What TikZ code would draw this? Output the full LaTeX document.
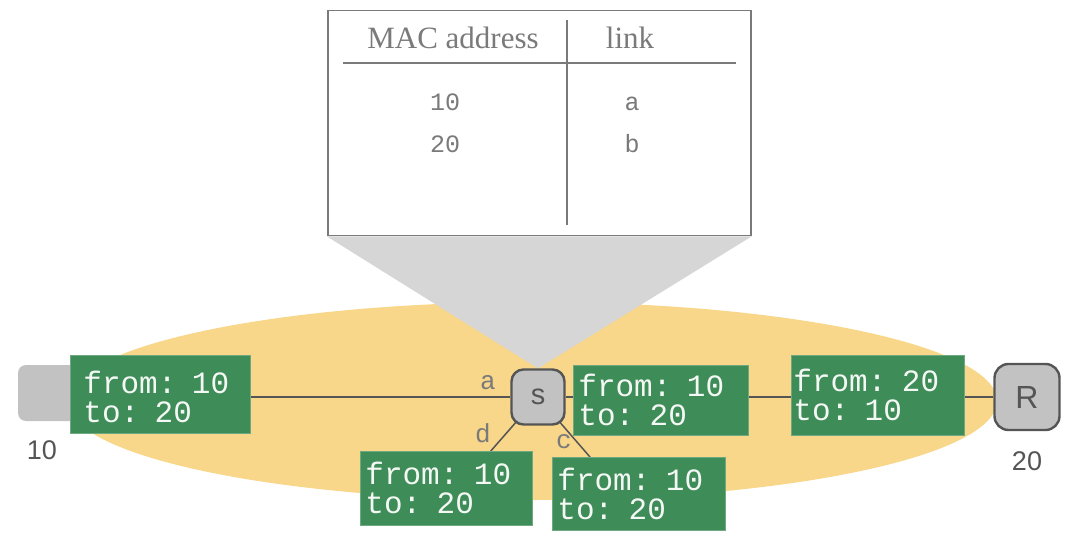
\documentclass[tikz,border=0pt]{standalone}
\usepackage{fontspec}
\setmainfont{Liberation Serif}
\setsansfont{Liberation Sans}
\setmonofont{Liberation Mono}
\usetikzlibrary{backgrounds}
\definecolor{lan}{HTML}{F8D68A}
\definecolor{cone}{HTML}{D6D6D6}
\definecolor{devfill}{HTML}{C2C2C2}
\definecolor{frame}{HTML}{3E8C57}
\definecolor{ink}{HTML}{555555}
\definecolor{tabink}{HTML}{7A7A7A}
\begin{document}
\begin{tikzpicture}[x=1pt,y=-1pt,
 gbox/.style={fill=frame, draw=frame!75!white, line width=0.8pt, text=white!94!frame,
   font=\ttfamily\fontsize{31}{29}\selectfont, align=left, anchor=north west, inner ysep=0pt},
 devbox/.style={fill=devfill, draw=ink, line width=2.4pt, rounded corners=12pt,
   font=\sffamily\fontsize{29}{30}\selectfont, text=ink, inner sep=0pt},
 link/.style={draw=ink, line width=1.5pt},
 lbl/.style={font=\ttfamily\fontsize{26}{28}\selectfont, text=tabink, inner sep=0pt},
 addr/.style={font=\sffamily\fontsize{27}{30}\selectfont, text=ink, inner sep=0pt},
 tabtext/.style={font=\fontsize{31}{34}\selectfont, text=tabink, inner sep=0pt},
 tabentry/.style={font=\ttfamily\fontsize{25}{28}\selectfont, text=tabink, inner sep=0pt},
 ]
\useasboundingbox (0,0) rectangle (1070,534);

% table
\node[draw=tabink, line width=1.5pt, fill=white, minimum width=423pt, minimum height=225pt,
  anchor=north west, inner sep=0pt] (table) at (327,10) {};

% devices
\node[fill=devfill, rounded corners=8pt, minimum width=70pt, minimum height=56pt, inner sep=0pt] (host) at (53,393) {};
\node[devbox, minimum width=53pt, minimum height=55pt] (s) at (538,397) {s};
\node[devbox, minimum width=65pt, minimum height=66pt, rounded corners=14pt, font=\sffamily\fontsize{32}{34}\selectfont] (R) at (1027,397) {R};

% frames
\node[gbox, inner xsep=13pt, text width=154pt, minimum height=78pt] (f1) at (70,355) {\rule{0pt}{28pt}from: 10\\to: 20};
\node[gbox, inner xsep=5pt, text width=165pt, minimum height=70pt] (f2) at (573,365) {from: 10\\to: 20};
\node[gbox, inner xsep=2pt, text width=169pt, minimum height=80pt] (f3) at (791,355) {from: 20\\to: 10};
\node[gbox, inner xsep=5pt, text width=162pt, minimum height=74pt] (f4) at (360,451) {from: 10\\to: 20};
\node[gbox, inner xsep=5pt, text width=163pt, minimum height=73pt] (f5) at (552,457) {from: 10\\to: 20};

\begin{scope}[on background layer]
  \fill[lan] (532,401) ellipse [x radius=465, y radius=99];
  \fill[cone] (table.south west) -- (table.south east) -- (s.north) -- cycle;
  \draw[link] (s.west) -- (s.west -| host.east);
  \draw[link] (s.east) -- (R.west);
  \draw[link] (s.center) -- ([xshift=-42pt]f4.north east);
  \draw[link] (s.center) -- ([xshift=38pt]f5.north west);
\end{scope}

% table content
\node[tabtext, anchor=base] (h1) at (453,49) {MAC address};
\node[tabtext, anchor=base] (h2) at (630,49) {link};
\draw[tabink, line width=1.5pt] ([xshift=16pt]table.north west |- 0,63) coordinate (hl) -- ([xshift=-16pt]table.north east |- 0,63) coordinate (hr);
\draw[tabink, line width=1.5pt] (567,20) coordinate (vt) -- (567,225) coordinate (vb);
\node[tabentry, anchor=base] (e1) at (445,111) {10};
\node[tabentry, anchor=base] (e2) at (445,153) {20};
\node[tabentry, anchor=base] (e3) at (632,111) {a};
\node[tabentry, anchor=base] (e4) at (632,153) {b};

% link labels
\node[lbl, anchor=base] (la) at (488,389) {a};
\node[lbl, anchor=base] (ld) at (483,442) {d};
\node[lbl, anchor=base] (lc) at (564,448) {c};

% addresses
\node[addr, anchor=base] (a10) at (42,459) {10};
\node[addr, anchor=base] (a20) at (1027,470) {20};
\end{tikzpicture}
\end{document}
